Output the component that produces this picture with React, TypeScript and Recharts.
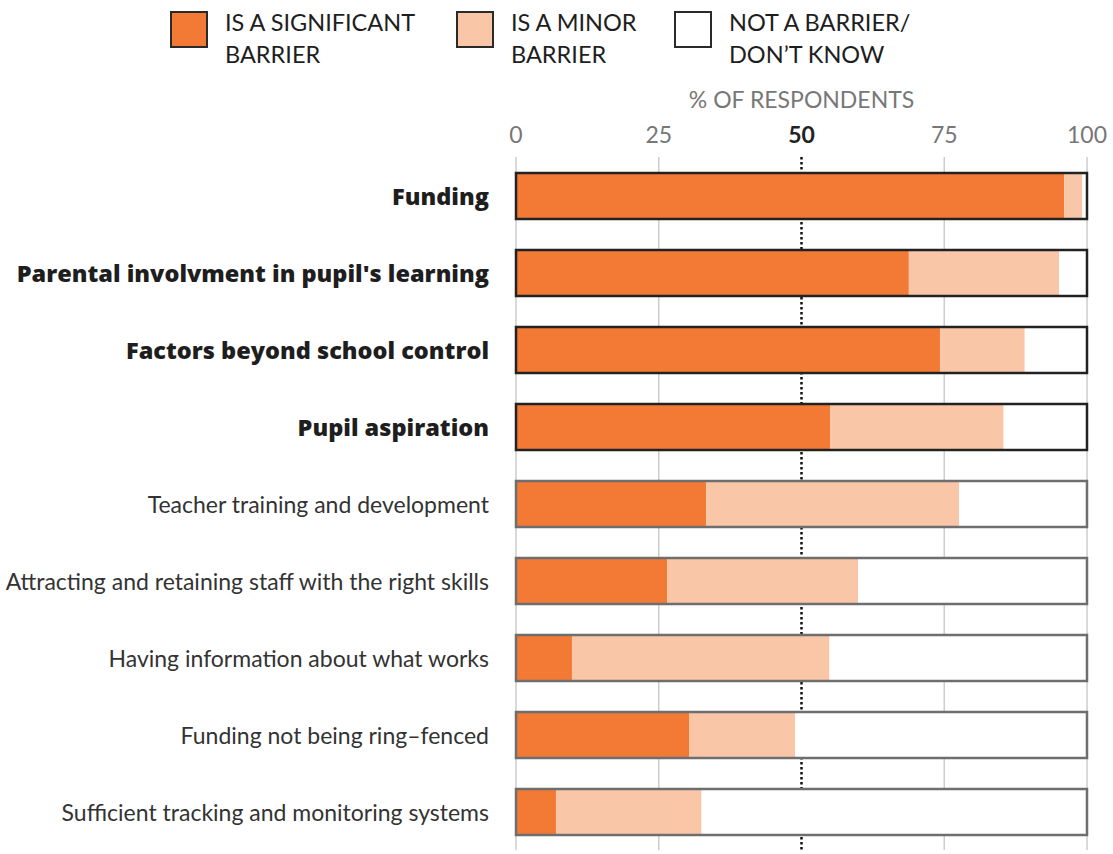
import React from 'react';
import { BarChart, Bar, XAxis, YAxis, CartesianGrid } from 'recharts';

const categories = [
  'Funding',
  "Parental involvment in pupil's learning",
  'Factors beyond school control',
  'Pupil aspiration',
  'Teacher training and development',
  'Attracting and retaining staff with the right skills',
  'Having information about what works',
  'Funding not being ring\u2013fenced',
  'Sufficient tracking and monitoring systems',
];
const significant = [96, 68.8, 74.3, 55, 33.3, 26.5, 9.8, 30.3, 7];
const minor = [3.2, 26.3, 14.8, 30.4, 44.3, 33.4, 45.1, 18.6, 25.5];
const notBarrier = [0.8, 4.9, 10.9, 14.6, 22.4, 40.1, 45.1, 51.1, 67.5];
const emphasized = [true, true, true, true, false, false, false, false, false];
const xTicks = [0, 25, 50, 75, 100];
const gridTicks = [0, 25, 75, 100];
const midTick = [50];

const legendItems = [
  { lines: ['IS A SIGNIFICANT', 'BARRIER'], color: '#F37A35' },
  { lines: ['IS A MINOR', 'BARRIER'], color: '#F9C6A7' },
  { lines: ['NOT A BARRIER/', 'DON\u2019T KNOW'], color: '#FFFFFF' },
];

const data = categories.map((name, i) => ({
  name,
  significant: significant[i],
  minor: minor[i],
  notBarrier: notBarrier[i],
}));

const FONT = 'Lato, "Open Sans", sans-serif';

const YTick = (props: any) => {
  const { x, y, payload, index } = props;
  const bold = emphasized[index];
  return (
    <text
      x={x}
      y={y}
      textAnchor="end"
      dominantBaseline="central"
      fontFamily={bold ? '"Open Sans", sans-serif' : FONT}
      fontSize={bold ? 23.5 : 23}
      fontWeight={bold ? 800 : 400}
      fill={bold ? '#1e1e1e' : '#333'}
    >
      {payload.value}
    </text>
  );
};

const XTick = (props: any) => {
  const { x, y, payload } = props;
  const is50 = payload.value === 50;
  return (
    <text
      x={x}
      y={y}
      textAnchor="middle"
      fontFamily={FONT}
      fontSize={23}
      fontWeight={is50 ? 700 : 400}
      fill={is50 ? '#222' : '#777'}
    >
      {payload.value}
    </text>
  );
};

const NoneShape = (props: any) => {
  const { x, y, width, height, background, index } = props;
  const stroke = emphasized[index] ? '#222' : '#6e6e6e';
  return (
    <g>
      <rect x={x} y={y} width={Math.max(0, width)} height={height} fill="#fff" />
      {background && (
        <rect
          x={background.x}
          y={y}
          width={background.width}
          height={height}
          fill="none"
          stroke={stroke}
          strokeWidth={2.5}
        />
      )}
    </g>
  );
};

const gen = (vals: number[]) => (args: any) => {
  const xa = args && args.xAxis;
  const sc = xa && xa.scale;
  if (!sc) return [];
  if (typeof sc === 'function') return vals.map((v) => sc(v));
  if (typeof sc.map === 'function') return vals.map((v) => sc.map(v));
  return [];
};

export default function App() {
  return (
    <div style={{ position: 'absolute', left: 0, top: 0, width: 1113, height: 854, background: '#fff', fontFamily: FONT }}>
      {legendItems.map((item, i) => {
        const lefts = [170, 456, 674];
        return (
          <div key={i} style={{ position: 'absolute', left: lefts[i], top: 11 }}>
            <div
              style={{
                position: 'absolute',
                left: 0,
                top: 0,
                width: 38,
                height: 37,
                boxSizing: 'border-box',
                border: '2px solid #2a2a2a',
                background: item.color,
              }}
            />
            <div
              style={{
                position: 'absolute',
                left: 55,
                top: -5,
                fontSize: 23.5,
                lineHeight: '32px',
                color: '#1e1e1e',
                whiteSpace: 'nowrap',
              }}
            >
              {item.lines.map((l, j) => (
                <div key={j}>{l}</div>
              ))}
            </div>
          </div>
        );
      })}
      <div
        style={{
          position: 'absolute',
          left: 516,
          width: 571,
          top: 83,
          textAlign: 'center',
          fontSize: 23,
          lineHeight: '32px',
          color: '#777',
        }}
      >
        % OF RESPONDENTS
      </div>
      <div style={{ position: 'absolute', left: 0, top: 0 }}>
        <BarChart
          width={1113}
          height={854}
          data={data}
          layout="vertical"
          margin={{ top: 127, right: 26, bottom: 4, left: 0 }}
          barSize={46}
        >
          <CartesianGrid
            horizontal={false}
            stroke="#cdcdcd"
            strokeWidth={1.5}
            verticalCoordinatesGenerator={gen(gridTicks)}
          />
          <CartesianGrid
            horizontal={false}
            stroke="#111"
            strokeWidth={2.5}
            strokeDasharray="2.5 2.5"
            verticalCoordinatesGenerator={gen(midTick)}
          />
          <XAxis
            type="number"
            orientation="top"
            domain={[0, 100]}
            ticks={xTicks}
            axisLine={false}
            tickLine={false}
            tickSize={0}
            tickMargin={14}
            height={30}
            tick={<XTick />}
            interval={0}
          />
          <YAxis
            type="category"
            dataKey="name"
            width={516}
            axisLine={false}
            tickLine={false}
            tickSize={0}
            tickMargin={27}
            tick={<YTick />}
            interval={0}
          />
          <Bar dataKey="significant" stackId="a" fill="#F37A35" isAnimationActive={false} />
          <Bar dataKey="minor" stackId="a" fill="#F9C6A7" isAnimationActive={false} />
          <Bar dataKey="notBarrier" stackId="a" fill="#fff" shape={<NoneShape />} isAnimationActive={false} />
        </BarChart>
      </div>
    </div>
  );
}
